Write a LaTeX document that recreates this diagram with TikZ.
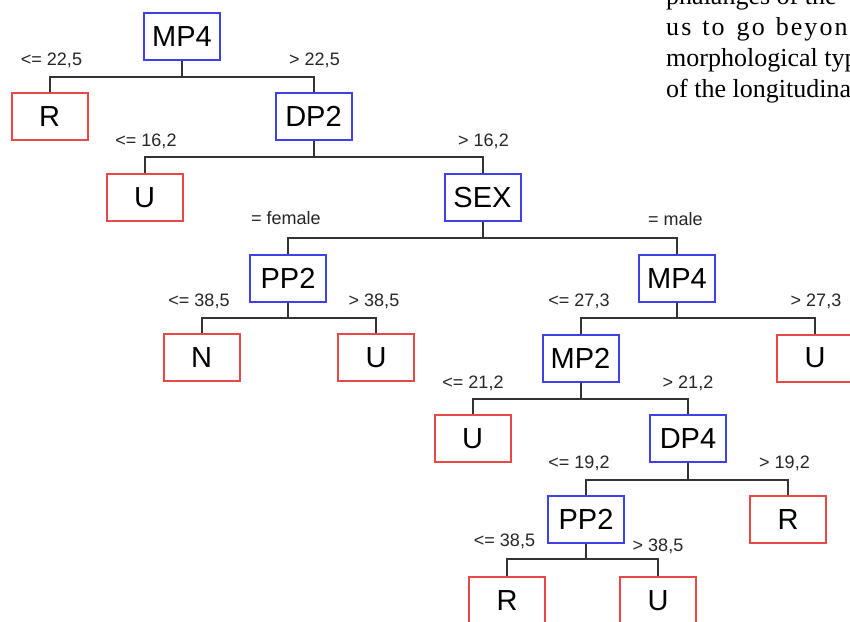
\documentclass[tikz,border=0pt]{standalone}
\usepackage{fontspec}
\setmainfont{Liberation Sans}
\newfontfamily\paperfont{Liberation Serif}
\definecolor{boxblue}{RGB}{64,64,232}
\definecolor{boxred}{RGB}{232,72,72}

\begin{document}
\begin{tikzpicture}[x=1pt,y=-1pt,
  split/.style={draw=boxblue,line width=2pt,minimum width=76pt,minimum height=47pt,inner sep=0pt,font=\fontsize{29}{29}\selectfont},
  leaf/.style={split,draw=boxred},
  cond/.style={anchor=base,font=\fontsize{18}{18}\selectfont,text=black!85},
  page/.style={anchor=base west,inner sep=0pt,font=\paperfont\fontsize{26}{26}\selectfont},
  edge/.style={line width=2pt,draw=black!80}]
\useasboundingbox[fill=white] (0,0) rectangle (850,621);

% page text behind the figure
\begin{scope}
\clip (0,0) rectangle (850,621);
\node[page] (p1) at (666,5) {phalanges of the};
\node[page] (p2) at (666,35) {\addfontfeature{LetterSpace=8}us\hspace{11pt}to\hspace{12pt}go\hspace{11pt}beyon};
\node[page] (p3) at (666,66) {morphological typ};
\node[page] (p4) at (666,97) {of the longitudina};
\end{scope}

\node[split] (mp4) at (182,36.5) {MP4};
\node[leaf] (r1) at (49.5,116.5) {R};
\node[split] (dp2) at (313.5,116.5) {DP2};
\draw[edge] (mp4.south) -- ++(0,15.5) -| (r1.north);
\draw[edge] (mp4.south) -- ++(0,15.5) -| (dp2.north);
\node[cond] at (51.5,65.5) {<= 22,5};
\node[cond] at (314.5,65.5) {> 22,5};

\node[leaf] (u1) at (144.5,197.5) {U};
\node[split] (sex) at (482.5,197.5) {SEX};
\draw[edge] (dp2.south) -- ++(0,16) -| (u1.north);
\draw[edge] (dp2.south) -- ++(0,16) -| (sex.north);
\node[cond] at (146,146.5) {<= 16,2};
\node[cond] at (483.5,146.5) {> 16,2};

\node[split] (pp2) at (288,278.5) {PP2};
\node[split] (mp4b) at (677,278.5) {MP4};
\draw[edge] (sex.south) -- ++(0,16) -| (pp2.north);
\draw[edge] (sex.south) -- ++(0,16) -| (mp4b.north);
\node[cond] at (286,224.5) {= female};
\node[cond] at (675.5,225.5) {= male};

\node[leaf] (n1) at (201.5,357.5) {N};
\node[leaf] (u2) at (376,357.5) {U};
\draw[edge] (pp2.south) -- ++(0,15) -| (n1.north);
\draw[edge] (pp2.south) -- ++(0,15) -| (u2.north);
\node[cond] at (199,306.5) {<= 38,5};
\node[cond] at (374,306.5) {> 38,5};

\node[split] (mp2) at (580.5,358) {MP2};
\node[leaf] (u3) at (815,358) {U};
\draw[edge] (mp4b.south) -- ++(0,15) -| (mp2.north);
\draw[edge] (mp4b.south) -- ++(0,15) -| (u3.north);
\node[cond] at (579,306.5) {<= 27,3};
\node[cond] at (816,306.5) {> 27,3};

\node[leaf] (u4) at (472.5,438.5) {U};
\node[split] (dp4) at (688,438.5) {DP4};
\draw[edge] (mp2.south) -- ++(0,16) -| (u4.north);
\draw[edge] (mp2.south) -- ++(0,16) -| (dp4.north);
\node[cond] at (473,388.5) {<= 21,2};
\node[cond] at (688,388.5) {> 21,2};

\node[split] (pp2b) at (586,519.5) {PP2};
\node[leaf] (r2) at (788,519.5) {R};
\draw[edge] (dp4.south) -- ++(0,17) -| (pp2b.north);
\draw[edge] (dp4.south) -- ++(0,17) -| (r2.north);
\node[cond] at (579,468.5) {<= 19,2};
\node[cond] at (784.5,468.5) {> 19,2};

\node[leaf] (r3) at (507,600.5) {R};
\node[leaf] (u5) at (658,600.5) {U};
\draw[edge] (pp2b.south) -- ++(0,15) -| (r3.north);
\draw[edge] (pp2b.south) -- ++(0,15) -| (u5.north);
\node[cond] at (504.5,546.5) {<= 38,5};
\node[cond] at (658,551.5) {> 38,5};
\end{tikzpicture}
\end{document}
